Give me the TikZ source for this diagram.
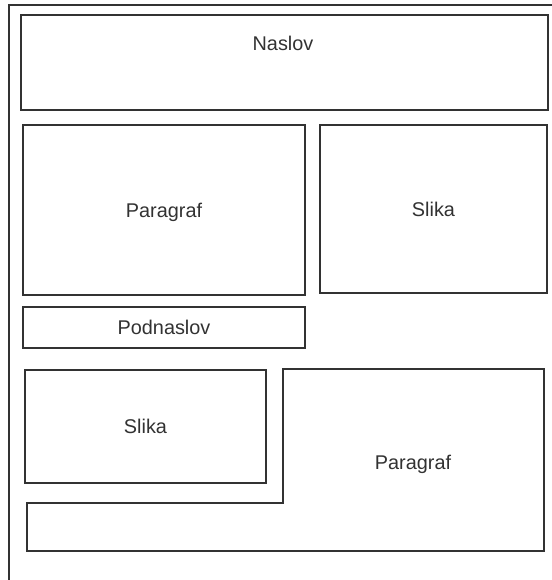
\documentclass[tikz,border=0pt]{standalone}
\usepackage{fontspec}
\setmainfont{Liberation Sans}
\definecolor{lineGray}{RGB}{50,50,50}
\definecolor{textGray}{RGB}{50,50,50}
\tikzset{
  frame/.style={draw=lineGray, line width=1.3pt},
  blok/.style={draw=lineGray, line width=1.4pt, inner sep=0pt, text=textGray,
               text depth=0pt, font=\fontsize{11.3}{13}\selectfont},
  lbl/.style={inner sep=0pt, text=textGray, font=\fontsize{11.3}{13}\selectfont},
}
\begin{document}
\begin{tikzpicture}[x=1cm,y=1cm]
\useasboundingbox (0,0) rectangle (11.04,-11.6);
% page frame
\coordinate (fTop) at (11.04,-0.10);
\coordinate (fCorner) at (0.18,-0.10);
\coordinate (fBot) at (0.18,-11.6);
\draw[frame] (fTop) -- (fCorner) -- (fBot);
% title row
\node[blok, minimum width=10.54cm, minimum height=1.90cm] (naslov) at (5.69,-1.25) {};
\node[lbl] (naslovTxt) at (5.66,-0.87) {Naslov};
% middle row
\node[blok, minimum width=5.64cm, minimum height=3.40cm] (par1) at (3.28,-4.20) {Paragraf};
\node[blok, minimum width=4.54cm, minimum height=3.36cm] (slika1) at (8.67,-4.18) {Slika};
\node[blok, minimum width=5.64cm, minimum height=0.82cm] (podnaslov) at (3.28,-6.55) {Podnaslov};
% bottom row
\node[blok, minimum width=4.82cm, minimum height=2.26cm] (slika2) at (2.91,-8.53) {Slika};
\draw[blok] (5.66,-7.38) -- (10.88,-7.38) -- (10.88,-11.02) -- (0.54,-11.02)
  -- (0.54,-10.06) -- (5.66,-10.06) -- cycle;
\node[lbl] (par2) at (8.26,-9.28) {Paragraf};
\end{tikzpicture}
\end{document}
